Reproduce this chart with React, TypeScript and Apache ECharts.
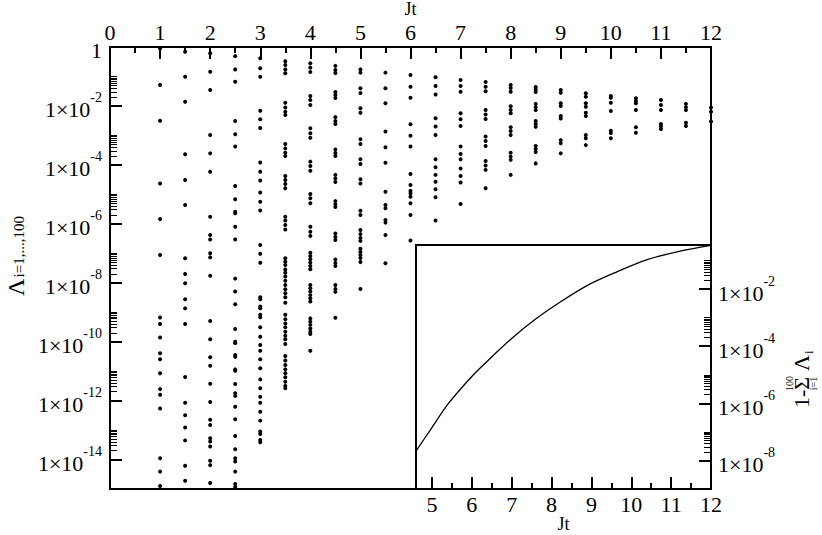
import React, { useEffect, useRef } from 'react';
import * as echarts from 'echarts';

const FONT = 'Liberation Serif';

// Jt values of the scatter columns
const jtColumns = [1, 1.5, 2, 2.5, 3, 3.5, 4, 4.5, 5, 5.5, 6, 6.5, 7, 7.5, 8, 8.5, 9, 9.5, 10, 10.5, 11, 11.5, 12];

// log10 of the eigenvalues Λ_i, one array per Jt column
const lam_1_0 = [-0.05, -1.29, -2.50, -4.63, -5.84, -7.06, -9.18, -9.40, -9.86, -10.39, -10.60, -11.07, -11.61, -11.80, -12.27, -13.96, -14.41, -14.90];
const lam_1_5 = [-0.16, -1.01, -1.86, -3.64, -4.51, -5.36, -7.17, -7.70, -8.02, -8.56, -8.87, -9.40, -11.20, -12.07, -12.50, -12.91, -13.35, -14.21, -14.72];
const lam_2_0 = [-0.21, -0.84, -1.46, -2.99, -3.61, -4.23, -5.76, -6.38, -6.53, -7.00, -7.14, -7.76, -9.30, -9.92, -10.53, -10.82, -11.43, -12.05, -12.65, -12.83, -13.28, -13.39, -13.56, -14.04, -14.19, -14.80];
const lam_2_5 = [-0.31, -0.76, -1.18, -2.51, -2.96, -3.38, -4.72, -5.17, -5.59, -5.64, -6.10, -6.53, -7.86, -8.30, -8.73, -9.57, -10.00, -10.05, -10.45, -10.51, -10.94, -10.99, -11.44, -11.75, -11.84, -12.21, -12.63, -13.20, -13.65, -13.96, -14.07, -14.41, -14.83, -14.92];
const lam_3_0 = [-0.38, -0.72, -1.01, -2.16, -2.45, -2.75, -3.92, -4.23, -4.53, -4.94, -5.25, -5.55, -6.72, -7.02, -7.32, -8.49, -8.56, -8.81, -8.87, -9.09, -9.17, -9.51, -9.83, -10.11, -10.31, -10.60, -10.90, -11.28, -11.58, -11.87, -12.07, -12.38, -12.68, -13.05, -13.13, -13.34, -13.41];
const lam_3_5 = [-0.48, -0.61, -0.76, -0.89, -1.89, -2.05, -2.20, -2.31, -3.29, -3.44, -3.59, -3.70, -4.38, -4.51, -4.65, -4.79, -5.76, -5.89, -6.04, -6.19, -7.17, -7.29, -7.40, -7.55, -7.66, -7.79, -7.93, -8.08, -8.22, -8.36, -8.49, -8.68, -9.09, -9.24, -9.38, -9.51, -9.66, -9.80, -9.92, -10.08, -10.49, -10.64, -10.79, -10.94, -11.07, -11.21, -11.36, -11.50, -11.58];
const lam_4_0 = [-0.55, -0.70, -0.85, -1.66, -1.80, -1.97, -2.76, -2.93, -3.08, -3.89, -4.04, -4.20, -4.99, -5.13, -5.30, -6.10, -6.27, -6.41, -6.98, -7.09, -7.20, -7.32, -7.43, -7.54, -8.08, -8.19, -8.30, -8.42, -8.53, -8.64, -9.21, -9.32, -9.43, -9.55, -9.66, -9.74, -10.31];
const lam_4_5 = [-0.64, -0.78, -0.88, -1.53, -1.63, -1.73, -2.38, -2.51, -2.61, -3.48, -3.60, -3.70, -4.34, -4.46, -4.58, -5.23, -5.34, -5.43, -6.33, -6.45, -6.55, -7.21, -7.33, -7.43, -8.08, -8.21, -8.31, -9.19];
const lam_5_0 = [-0.76, -0.87, -1.40, -1.56, -2.08, -2.23, -3.13, -3.29, -3.81, -3.97, -4.49, -4.63, -5.56, -5.70, -6.21, -6.35, -6.48, -6.58, -6.85, -6.96, -7.06, -7.16, -7.30, -8.21];
const lam_5_5 = [-0.87, -1.40, -1.91, -2.87, -3.40, -3.93, -4.91, -5.36, -5.47, -5.87, -5.96, -6.38, -7.34];
const lam_6_0 = [-0.95, -1.35, -1.72, -2.62, -3.01, -3.38, -4.31, -4.68, -4.88, -4.96, -5.08, -5.30, -5.70, -6.57];
const lam_6_5 = [-1.03, -1.32, -1.61, -2.42, -2.70, -2.99, -3.81, -4.08, -4.34, -4.57, -4.83, -5.10, -5.89];
const lam_7_0 = [-1.12, -1.32, -1.52, -2.25, -2.45, -2.68, -3.38, -3.63, -3.81, -4.12, -4.38, -4.60, -5.33];
const lam_7_5 = [-1.19, -1.35, -1.50, -2.14, -2.29, -2.44, -3.04, -3.19, -3.36, -3.87, -4.02, -4.17, -4.79];
const lam_8_0 = [-1.29, -1.39, -1.52, -2.01, -2.14, -2.25, -2.72, -2.85, -2.99, -3.59, -3.72, -3.83, -4.34];
const lam_8_5 = [-1.36, -1.44, -1.53, -1.93, -2.04, -2.14, -2.51, -2.61, -2.71, -3.36, -3.46, -3.56, -3.95];
const lam_9_0 = [-1.46, -1.55, -1.91, -2.00, -2.34, -2.43, -3.16, -3.27, -3.61];
const lam_9_5 = [-1.57, -1.69, -1.91, -2.03, -2.23, -2.34, -2.99, -3.10, -3.33];
const lam_10_0 = [-1.66, -1.72, -1.89, -2.17, -2.84, -2.92, -3.10];
const lam_10_5 = [-1.74, -1.83, -1.91, -2.14, -2.72, -2.91];
const lam_11_0 = [-1.80, -1.97, -2.14, -2.61, -2.70, -2.78];
const lam_11_5 = [-1.93, -2.04, -2.14, -2.57, -2.68];
const lam_12_0 = [-2.05, -2.20, -2.53];

const lambdaColumns = [
  lam_1_0, lam_1_5, lam_2_0, lam_2_5, lam_3_0, lam_3_5, lam_4_0, lam_4_5, lam_5_0, lam_5_5, lam_6_0, lam_6_5,
  lam_7_0, lam_7_5, lam_8_0, lam_8_5, lam_9_0, lam_9_5, lam_10_0, lam_10_5, lam_11_0, lam_11_5, lam_12_0,
];

// inset: 1 - sum Λ_i versus Jt (log10 of the value)
const insetJt = [4.6, 5.0, 5.4, 6.0, 6.4, 7.0, 7.6, 8.2, 8.9, 9.6, 10.4, 11.2, 12.0];
const insetLog10 = [-7.67, -6.85, -6.03, -5.06, -4.51, -3.73, -3.05, -2.47, -1.87, -1.42, -0.97, -0.68, -0.47];

// tick positions (exponents for the log axes)
const mainYMajorExp = [-14, -12, -10, -8, -6, -4, -2, 0];
const insetYMajorExp = [-8, -6, -4, -2];
const insetXTicks = [5, 6, 7, 8, 9, 10, 11, 12];
const insetXMinorTicks = [5.5, 6.5, 7.5, 8.5, 9.5, 10.5, 11.5];
const minorFactors = [2, 3, 4, 5, 6, 7, 8, 9, 10];

const MAIN_Y_MIN = 1e-15;
const MAIN_Y_MAX = 1;
const INSET_Y_MIN = 1e-9;
const INSET_Y_MAX = 0.35;

function minorExps(majors: number[]) {
  const out: number[] = [];
  majors.forEach((n) => minorFactors.forEach((k) => out.push(n + Math.log10(k))));
  return out;
}

const expLabel = (v: number) => {
  const e = Math.round(v);
  return e === 0 ? '{b|1}' : `{b|1×10}{s|${e}}`;
};

const labelRich = {
  b: { fontSize: 22, fontFamily: FONT, color: '#000', lineHeight: 28, padding: [10, 0, 0, 0], verticalAlign: 'bottom' },
  s: { fontSize: 14, fontFamily: FONT, color: '#000', lineHeight: 30, verticalAlign: 'top' },
};

const tickLine = (w: number) => ({ color: '#000', width: w });

function buildOption() {
  const scatterData: number[][] = [];
  jtColumns.forEach((x, i) => {
    lambdaColumns[i].forEach((e) => scatterData.push([x, Math.pow(10, e)]));
  });
  const lineData = insetJt.map((x, i) => [x, Math.pow(10, insetLog10[i])]);

  const mainMin = Math.log10(MAIN_Y_MIN);
  const mainMax = Math.log10(MAIN_Y_MAX);
  const insMin = Math.log10(INSET_Y_MIN);
  const insMax = Math.log10(INSET_Y_MAX);

  const nameStyle = { fontSize: 18, fontFamily: FONT, color: '#000', lineHeight: 18 };

  return {
    animation: false,
    backgroundColor: '#fff',
    textStyle: { fontFamily: FONT, color: '#000' },
    grid: [
      { left: 110, top: 47, width: 601, height: 442, show: true, borderColor: '#000', borderWidth: 2, backgroundColor: 'transparent', containLabel: false, outerBoundsMode: 'none' },
      { left: 416, top: 245, width: 295, height: 244, show: true, borderColor: '#000', borderWidth: 2, backgroundColor: '#fff', containLabel: false, outerBoundsMode: 'none' },
    ],
    xAxis: [
      {
        gridIndex: 0, type: 'value', position: 'top', min: 0, max: 12, interval: 1,
        axisLine: { show: false },
        axisTick: { show: true, inside: true, length: 12, lineStyle: tickLine(2) },
        minorTick: { show: true, splitNumber: 2, length: 6, lineStyle: tickLine(2) },
        splitLine: { show: false }, minorSplitLine: { show: false },
        axisLabel: { fontSize: 22, lineHeight: 18, fontFamily: FONT, color: '#000', margin: 6 },
        name: 'Jt', nameLocation: 'middle', nameGap: 29, nameMoveOverlap: false, nameTextStyle: nameStyle,
      },
      {
        gridIndex: 1, type: 'value', position: 'bottom', min: 4.6, max: 12,
        axisLine: { show: false },
        axisTick: { show: true, inside: true, length: 12, customValues: insetXTicks, lineStyle: tickLine(2) },
        splitLine: { show: false },
        axisLabel: { customValues: insetXTicks, fontSize: 22, lineHeight: 18, fontFamily: FONT, color: '#000', margin: 6 },
        name: 'Jt', nameLocation: 'middle', nameGap: 26, nameMoveOverlap: false, nameTextStyle: nameStyle,
      },
      {
        gridIndex: 1, type: 'value', position: 'bottom', min: 4.6, max: 12,
        axisLine: { show: false },
        axisTick: { show: true, inside: true, length: 6, customValues: insetXMinorTicks, lineStyle: tickLine(2) },
        splitLine: { show: false },
        axisLabel: { show: false },
      },
    ],
    yAxis: [
      { gridIndex: 0, type: 'log', logBase: 10, min: MAIN_Y_MIN, max: MAIN_Y_MAX, show: false, splitLine: { show: false } },
      {
        gridIndex: 0, type: 'value', position: 'left', min: mainMin, max: mainMax,
        axisLine: { show: false },
        axisTick: { show: true, inside: true, length: 12, customValues: mainYMajorExp, lineStyle: tickLine(2) },
        splitLine: { show: false },
        axisLabel: { customValues: mainYMajorExp, formatter: expLabel, rich: labelRich, margin: 8 },
      },
      {
        gridIndex: 0, type: 'value', position: 'left', min: mainMin, max: mainMax,
        axisLine: { show: false },
        axisTick: { show: true, inside: true, length: 7, customValues: minorExps(mainYMajorExp.filter((e) => e < 0)), lineStyle: tickLine(1) },
        splitLine: { show: false },
        axisLabel: { show: false },
      },
      { gridIndex: 1, type: 'log', logBase: 10, min: INSET_Y_MIN, max: INSET_Y_MAX, show: false, splitLine: { show: false } },
      {
        gridIndex: 1, type: 'value', position: 'right', min: insMin, max: insMax,
        axisLine: { show: false },
        axisTick: { show: true, inside: true, length: 12, customValues: insetYMajorExp, lineStyle: tickLine(2) },
        splitLine: { show: false },
        axisLabel: { customValues: insetYMajorExp, formatter: expLabel, rich: labelRich, margin: 7 },
      },
      {
        gridIndex: 1, type: 'value', position: 'right', min: insMin, max: insMax,
        axisLine: { show: false },
        axisTick: { show: true, inside: true, length: 7, customValues: minorExps(insetYMajorExp), lineStyle: tickLine(1) },
        splitLine: { show: false },
        axisLabel: { show: false },
      },
    ],
    series: [
      {
        type: 'scatter', xAxisIndex: 0, yAxisIndex: 0, data: scatterData,
        symbol: 'circle', symbolSize: 4, itemStyle: { color: '#000', opacity: 1 }, clip: false, z: 5,
      },
      {
        type: 'line', xAxisIndex: 1, yAxisIndex: 3, data: lineData, smooth: 0.3,
        showSymbol: false, symbol: 'none', lineStyle: { color: '#000', width: 1.3 }, z: 5,
      },
    ],
    graphic: [
      {
        type: 'text', x: 15, y: 256, rotation: Math.PI / 2,
        style: {
          text: '{L|Λ}{sub|i=1,...,100}',
          align: 'center', verticalAlign: 'middle', fill: '#000',
          rich: {
            L: { fontSize: 24, fontFamily: FONT, color: '#000', lineHeight: 22, verticalAlign: 'top' },
            sub: { fontSize: 15, fontFamily: FONT, color: '#000', lineHeight: 15, padding: [16, 0, 0, 1], verticalAlign: 'bottom' },
          },
        },
      },
      {
        type: 'group', x: 801, y: 372, rotation: Math.PI / 2,
        children: [
          { type: 'text', x: -36, y: 0, style: { text: '1-Σ', fontSize: 22, fontFamily: FONT, fill: '#000', align: 'left', verticalAlign: 'middle' } },
          { type: 'text', x: -11.5, y: -12, style: { text: '100', fontSize: 10, fontFamily: FONT, fill: '#000', align: 'center', verticalAlign: 'middle' } },
          { type: 'text', x: -11.5, y: 12, style: { text: 'i=1', fontSize: 10, fontFamily: FONT, fill: '#000', align: 'center', verticalAlign: 'middle' } },
          { type: 'text', x: 1, y: 0, style: { text: 'Λ', fontSize: 22, fontFamily: FONT, fill: '#000', align: 'left', verticalAlign: 'middle' } },
          { type: 'text', x: 18, y: 7, style: { text: 'i', fontSize: 13, fontFamily: FONT, fill: '#000', align: 'left', verticalAlign: 'middle' } },
        ],
      },
    ],
  };
}

export default function App() {
  const ref = useRef<HTMLDivElement>(null);
  useEffect(() => {
    if (!ref.current) return;
    const chart = echarts.init(ref.current, undefined, { renderer: 'svg' });
    chart.setOption(buildOption() as any);
    return () => chart.dispose();
  }, []);
  return (
    <div
      ref={ref}
      style={{ position: 'absolute', left: 0, top: 0, width: 822, height: 535, background: '#fff' }}
    />
  );
}
